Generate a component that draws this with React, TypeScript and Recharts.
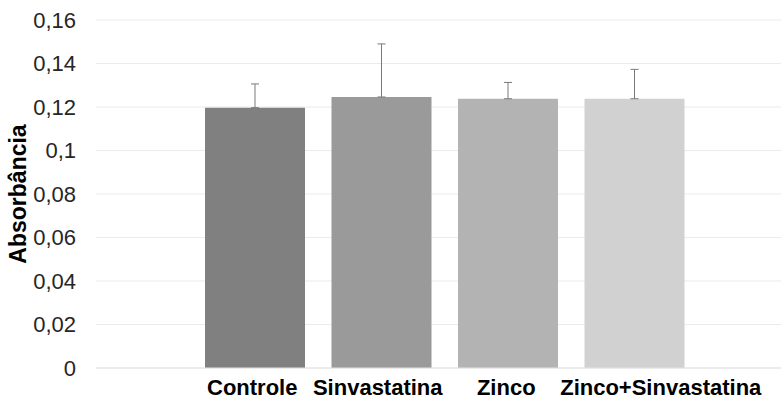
import { BarChart, Bar, XAxis, YAxis, CartesianGrid, ErrorBar, Cell } from 'recharts';

const categories = ['Controle', 'Sinvastatina', 'Zinco', 'Zinco+Sinvastatina'];
const absorbance = [0.1197, 0.1246, 0.1238, 0.1238];
const errorUp = [0.0109, 0.0244, 0.0075, 0.0135];
const barColors = ['#808080', '#9a9a9a', '#b3b3b3', '#d1d1d1'];
const yTicks = [0, 0.02, 0.04, 0.06, 0.08, 0.1, 0.12, 0.14, 0.16];
// label nudges so the long last label does not run into "Zinco"
const labelShift = [-3, -4, -2, 26];

const data = categories.map((name, i) => ({
  name,
  value: absorbance[i],
  err: [0, errorUp[i]],
}));

const font = '"Liberation Sans", Arial, sans-serif';

function CategoryTick({ x, y, payload, index }: any) {
  return (
    <text
      x={x + labelShift[index]}
      y={y}
      dy="0.71em"
      textAnchor="middle"
      fontSize={22}
      fontWeight="bold"
      fontFamily={font}
      fill="#000"
    >
      {payload.value}
    </text>
  );
}

export default function App() {
  return (
    <div style={{ width: 782, height: 399, background: '#fff' }}>
      <style>{'body { margin: 0; }'}</style>
      <BarChart
        width={782}
        height={399}
        data={data}
        margin={{ top: 20, right: 1, bottom: 0, left: 0 }}
        style={{ fontFamily: font }}
      >
        <CartesianGrid vertical={false} stroke="#ebebeb" strokeWidth={1} />
        <XAxis
          dataKey="name"
          tickLine={false}
          axisLine={{ stroke: '#e3e3e3' }}
          height={31}
          tickMargin={5}
          padding={{ left: 96, right: 83 }}
          interval={0}
          tick={<CategoryTick />}
        />
        <YAxis
          domain={[0, 0.16]}
          ticks={yTicks}
          width={96}
          axisLine={false}
          tickLine={false}
          tickMargin={14}
          tickFormatter={(v: number) => String(v).replace('.', ',')}
          tick={{ fill: '#262626', fontSize: 22, fontFamily: font }}
          label={{
            content: ({ viewBox }: any) => {
              const cx = viewBox.x + 18;
              const cy = viewBox.y + viewBox.height / 2;
              return (
                <text
                  x={cx}
                  y={cy}
                  transform={`rotate(-90 ${cx} ${cy})`}
                  textAnchor="middle"
                  dominantBaseline="central"
                  fontSize={23}
                  fontWeight="bold"
                  fontFamily={font}
                  fill="#000"
                >
                  Absorbância
                </text>
              );
            },
          }}
        />
        <Bar dataKey="value" barSize={100} isAnimationActive={false}>
          {data.map((d, i) => (
            <Cell key={d.name} fill={barColors[i]} />
          ))}
          <ErrorBar dataKey="err" width={4} stroke="#7a7a7a" strokeWidth={1} />
        </Bar>
      </BarChart>
    </div>
  );
}
